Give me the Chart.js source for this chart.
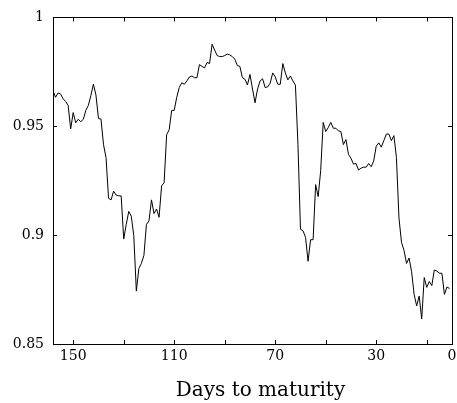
<!DOCTYPE html>
<html>
<head>
<meta charset="utf-8">
<script src="https://cdn.jsdelivr.net/npm/chart.js@4.4.1/dist/chart.umd.min.js"></script>
<style>
  html, body { margin: 0; padding: 0; background: #fff; }
  #wrap { width: 457px; height: 403px; }
</style>
</head>
<body>
<div id="wrap"><canvas id="chart" width="457" height="403"></canvas></div>
<script>
// One value per day, from 158 days to maturity down to 1.
const FIRST_DAY = 158;
const VALUES = [
  0.9663, 0.9633, 0.9653, 0.9648, 0.9626, 0.9614, 0.9596, 0.9488, 0.9563, 0.9516,
  0.9532, 0.9521, 0.9532, 0.9573, 0.9596, 0.9641, 0.9693, 0.9644, 0.9536, 0.9533,
  0.9416, 0.9356, 0.9169, 0.9162, 0.9202, 0.9184, 0.9181, 0.9180, 0.8982, 0.9049,
  0.9109, 0.9087, 0.8997, 0.8743, 0.8847, 0.8870, 0.8907, 0.9049, 0.9065, 0.9162,
  0.9099, 0.9120, 0.9082, 0.9226, 0.9241, 0.9461, 0.9484, 0.9573, 0.9573, 0.9633,
  0.9678, 0.9700, 0.9693, 0.9708, 0.9726, 0.9731, 0.9723, 0.9723, 0.9783, 0.9775,
  0.9768, 0.9793, 0.9788, 0.9877, 0.9850, 0.9825, 0.9820, 0.9820, 0.9825, 0.9831,
  0.9828, 0.9820, 0.9808, 0.9779, 0.9775, 0.9723, 0.9716, 0.9690, 0.9738, 0.9671,
  0.9608, 0.9671, 0.9708, 0.9718, 0.9678, 0.9681, 0.9698, 0.9745, 0.9727, 0.9693,
  0.9693, 0.9788, 0.9745, 0.9713, 0.9731, 0.9708, 0.9689, 0.9416, 0.9027, 0.9020,
  0.8990, 0.8880, 0.8979, 0.8979, 0.9232, 0.9177, 0.9296, 0.9518, 0.9476, 0.9494,
  0.9518, 0.9491, 0.9491, 0.9479, 0.9476, 0.9416, 0.9439, 0.9371, 0.9353, 0.9326,
  0.9329, 0.9299, 0.9308, 0.9312, 0.9312, 0.9329, 0.9314, 0.9341, 0.9409, 0.9424,
  0.9404, 0.9434, 0.9464, 0.9464, 0.9434, 0.9457, 0.9356, 0.9079, 0.8967, 0.8930,
  0.8870, 0.8895, 0.8832, 0.8728, 0.8675, 0.8720, 0.8615, 0.8805, 0.8760, 0.8787,
  0.8768, 0.8840, 0.8835, 0.8825, 0.8825, 0.8728, 0.8762, 0.8755,
];
const DAYS = VALUES.map((_, i) => FIRST_DAY - i);

const X_MAJOR = [150, 110, 70, 30, 0];
const X_MINOR = [130, 90, 50, 10];
const Y_TICKS = [0.85, 0.9, 0.95, 1];
const X_TITLE = 'Days to maturity';

const SERIF = "'DejaVu Serif', 'Liberation Serif', serif";

// Box around the plot, short inward tick marks on all four sides, and the
// x-axis label (sits a little right of the plot centre in the original).
const frameTicks = {
  id: 'frameTicks',
  afterDraw(chart) {
    const { ctx, chartArea: a, scales: { x, y } } = chart;
    const len = 4;
    ctx.save();
    ctx.strokeStyle = '#000';
    ctx.lineWidth = 1;
    ctx.beginPath();
    x.ticks.forEach((t) => {
      const px = Math.round(x.getPixelForValue(t.value)) + 0.5;
      ctx.moveTo(px, a.bottom); ctx.lineTo(px, a.bottom - len);
      ctx.moveTo(px, a.top); ctx.lineTo(px, a.top + len);
    });
    y.ticks.forEach((t) => {
      const py = Math.round(y.getPixelForValue(t.value)) + 0.5;
      ctx.moveTo(a.left, py); ctx.lineTo(a.left + len, py);
      ctx.moveTo(a.right, py); ctx.lineTo(a.right - len, py);
    });
    ctx.stroke();
    ctx.strokeRect(Math.round(a.left) + 0.5, Math.round(a.top) + 0.5,
      Math.round(a.right - a.left), Math.round(a.bottom - a.top));

    ctx.fillStyle = '#000';
    ctx.font = `20px ${SERIF}`;
    ctx.textAlign = 'center';
    ctx.textBaseline = 'alphabetic';
    ctx.fillText(X_TITLE, (a.left + a.right) / 2 + 8, x.bottom - 7);
    ctx.restore();
  },
};

new Chart(document.getElementById('chart'), {
  type: 'line',
  data: {
    datasets: [{
      data: DAYS.map((d, i) => ({ x: d, y: VALUES[i] })),
      borderColor: '#000',
      borderWidth: 1,
      pointRadius: 0,
      tension: 0,
      fill: false,
    }],
  },
  options: {
    responsive: false,
    animation: false,
    layout: { padding: { left: 0, right: 5, top: 10, bottom: 0 } },
    plugins: { legend: { display: false }, tooltip: { enabled: false } },
    scales: {
      x: {
        type: 'linear',
        reverse: true,
        min: 0,
        max: FIRST_DAY,
        grid: { display: false, drawTicks: false },
        border: { display: false },
        afterBuildTicks: (s) => {
          s.ticks = [...X_MAJOR, ...X_MINOR].sort((a, b) => b - a).map((v) => ({ value: v }));
        },
        afterFit: (s) => {
          s.height = 59;
          s.paddingLeft = 0;
          s.paddingRight = 0;
        },
        ticks: {
          color: '#000',
          font: { family: SERIF, size: 14 },
          padding: 4,
          maxRotation: 0,
          autoSkip: false,
          callback: (v) => (X_MAJOR.includes(v) ? String(v) : ''),
        },
      },
      y: {
        min: 0.85,
        max: 1,
        grid: { display: false, drawTicks: false },
        border: { display: false },
        afterBuildTicks: (s) => { s.ticks = Y_TICKS.map((v) => ({ value: v })); },
        afterFit: (s) => { s.width = 53; },
        ticks: {
          color: '#000',
          font: { family: SERIF, size: 14 },
          padding: 9,
          callback: (v) => String(Number(v.toFixed(2))),
        },
      },
    },
  },
  plugins: [frameTicks],
});
</script>
</body>
</html>
